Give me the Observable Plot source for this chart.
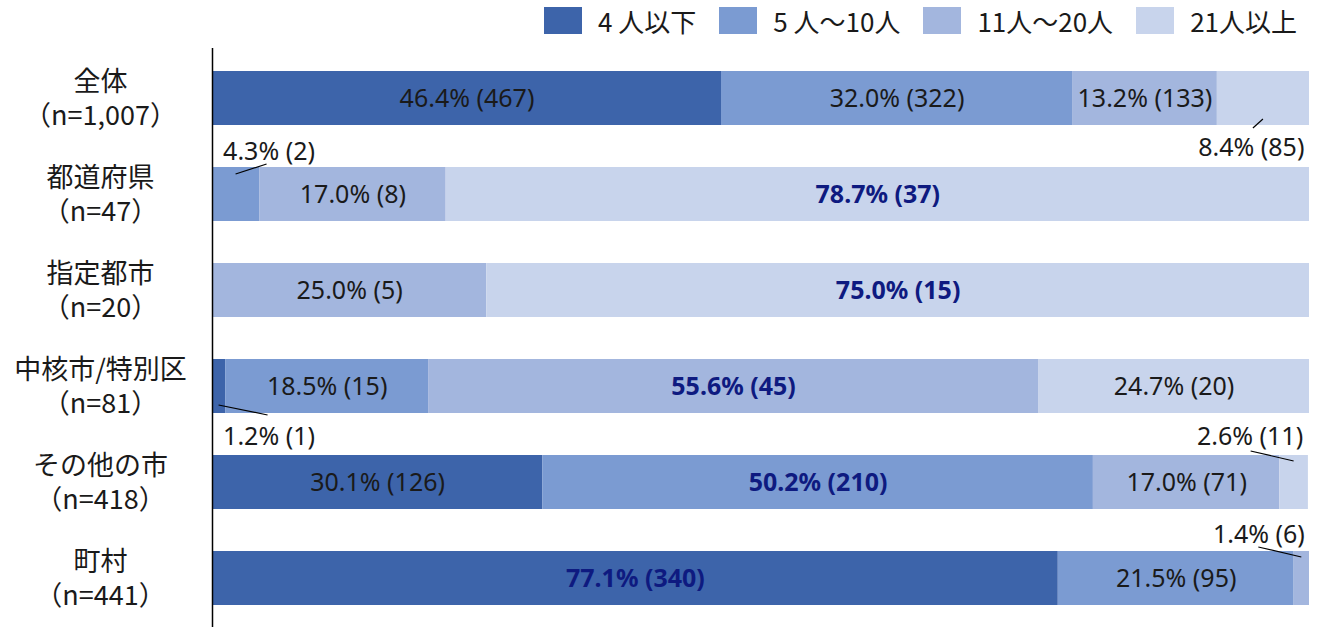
<!DOCTYPE html>
<html>
<head>
<meta charset="utf-8">
<script src="https://cdn.jsdelivr.net/npm/d3@7"></script>
<script src="https://cdn.jsdelivr.net/npm/@observablehq/plot@0.6"></script>
<style>
  html, body { margin: 0; padding: 0; background: #fff; }
  #wrap { width: 1320px; height: 627px; position: relative; font-family: "Noto Sans", "Noto Sans CJK JP", sans-serif; }
  #legend { height: 48px; display: flex; justify-content: flex-end; align-items: flex-start; padding-right: 23px; box-sizing: border-box; }
  .item { display: flex; align-items: center; margin-left: 23px; margin-top: 7px; height: 27px; }
  .sw { width: 38px; height: 27px; margin-right: 16px; }
  .lab { font-size: 26px; line-height: 27px; color: #1a1a1a; font-family: "Noto Sans CJK JP", sans-serif; }
  svg { display: block; }
</style>
</head>
<body>
<div id="wrap">
  <div id="legend"></div>
  <div id="chart"></div>
</div>
<script>
// ---- data ----
const categories = ["全体", "都道府県", "指定都市", "中核市/特別区", "その他の市", "町村"];
const sampleN = [1007, 47, 20, 81, 418, 441];
const seriesNames = ["4 人以下", "5 人～10人", "11人～20人", "21人以上"];
const pct4 = [46.4, 0, 0, 1.2, 30.1, 77.1];
const pct5to10 = [32.0, 4.3, 0, 18.5, 50.2, 21.5];
const pct11to20 = [13.2, 17.0, 25.0, 55.6, 17.0, 1.4];
const pct21 = [8.4, 78.7, 75.0, 24.7, 2.6, 0];
const cnt4 = [467, 0, 0, 1, 126, 340];
const cnt5to10 = [322, 2, 0, 15, 210, 95];
const cnt11to20 = [133, 8, 5, 45, 71, 6];
const cnt21 = [85, 37, 15, 20, 11, 0];

// ---- styling ----
const colors = ["#3d64aa", "#7b9bd2", "#a3b6de", "#c8d4ec"];
const pctSeries = [pct4, pct5to10, pct11to20, pct21];
const cntSeries = [cnt4, cnt5to10, cnt11to20, cnt21];

const rows = [];
categories.forEach((c, i) => {
  seriesNames.forEach((s, j) => {
    rows.push({cat: c, series: s, si: j, pct: pctSeries[j][i], n: cntSeries[j][i]});
  });
});
const label = d => `${d.pct.toFixed(1)}% (${d.n})`;

// callouts for small segments (pixel offsets relative to segment midpoint / band center)
const callouts = [
  {cat: "全体", si: 3, tx: 41, ty: 49, anchor: "end", line: [0, 21, -10, 30]},
  {cat: "都道府県", si: 1, tx: -13, ty: -43, anchor: "start", line: [0, -20, 31, -30]},
  {cat: "中核市/特別区", si: 0, tx: 4, ty: 50, anchor: "start", line: [0, 19, 49, 29]},
  {cat: "その他の市", si: 3, tx: 9, ty: -46, anchor: "end", line: [0, -21, -43, -31]},
  {cat: "町村", si: 2, tx: 3, ty: -44, anchor: "end", line: [0, -21, -43, -31]}
];
const isCallout = d => callouts.some(c => c.cat === d.cat && c.si === d.si);

// legend
const legend = d3.select("#legend");
seriesNames.forEach((s, j) => {
  const it = legend.append("div").attr("class", "item");
  it.append("div").attr("class", "sw").style("background", colors[j]);
  it.append("div").attr("class", "lab").text(s);
});

const valueFont = "'Noto Sans', 'Noto Sans CJK JP', sans-serif";
const catFont = "'Noto Sans CJK JP', sans-serif";
const fmtN = d3.format(",");
const VF = 25;

const marks = [
  Plot.barX(rows, Plot.stackX({x: "pct", y: "cat", fill: "series"})),
  Plot.ruleX([0], {stroke: "#000", strokeWidth: 1.5}),
  Plot.text(categories, {
    y: d => d, text: d => d,
    frameAnchor: "left", dx: -112, dy: -16, textAnchor: "middle",
    fontSize: 27, fill: "#1a1a1a", fontFamily: catFont
  }),
  Plot.text(categories, {
    y: d => d, text: (d, i) => `（n=${fmtN(sampleN[i])}）`,
    frameAnchor: "left", dx: -112, dy: 18, textAnchor: "middle",
    fontSize: 27, fill: "#1a1a1a", fontFamily: catFont
  }),
  Plot.text(rows, Plot.stackX({
    x: "pct", y: "cat", z: "series",
    text: d => (d.pct >= 10 && d.pct < 50 && !isCallout(d)) ? label(d) : null,
    fill: "#1a1a1a", fontSize: VF, fontFamily: valueFont
  })),
  Plot.text(rows, Plot.stackX({
    x: "pct", y: "cat", z: "series",
    text: d => (d.pct >= 50) ? label(d) : null,
    fill: "#0e1a80", fontWeight: "bold", fontSize: VF, fontFamily: valueFont
  })),
  ...callouts.map(c => Plot.text(rows, Plot.stackX({
    x: "pct", y: "cat", z: "series",
    text: d => (d.cat === c.cat && d.si === c.si) ? label(d) : null,
    dx: c.tx, dy: c.ty, textAnchor: c.anchor,
    fill: "#1a1a1a", fontSize: VF, fontFamily: valueFont
  })))
];

const chart = Plot.plot({
  width: 1320,
  height: 579,
  marginLeft: 212,
  marginRight: 11,
  marginTop: 0,
  marginBottom: 0,
  style: {background: "transparent", overflow: "visible"},
  x: {domain: [0, 100], axis: null},
  y: {domain: categories, axis: null, paddingInner: 0.44, paddingOuter: 0.22},
  color: {domain: seriesNames, range: colors},
  marks
});
document.getElementById("chart").appendChild(chart);

// leader lines positioned with the plot's own scales
const xs = chart.scale("x");
const ys = chart.scale("y");
const svg = d3.select(chart);
callouts.forEach(c => {
  const i = categories.indexOf(c.cat);
  let start = 0;
  for (let j = 0; j < c.si; j++) start += pctSeries[j][i];
  const mid = start + pctSeries[c.si][i] / 2;
  const px = xs.apply(mid);
  const py = ys.apply(c.cat) + ys.bandwidth / 2;
  svg.append("line")
    .attr("x1", px + c.line[0]).attr("y1", py + c.line[1])
    .attr("x2", px + c.line[2]).attr("y2", py + c.line[3])
    .attr("stroke", "#000").attr("stroke-width", 1.2);
});
</script>
</body>
</html>
